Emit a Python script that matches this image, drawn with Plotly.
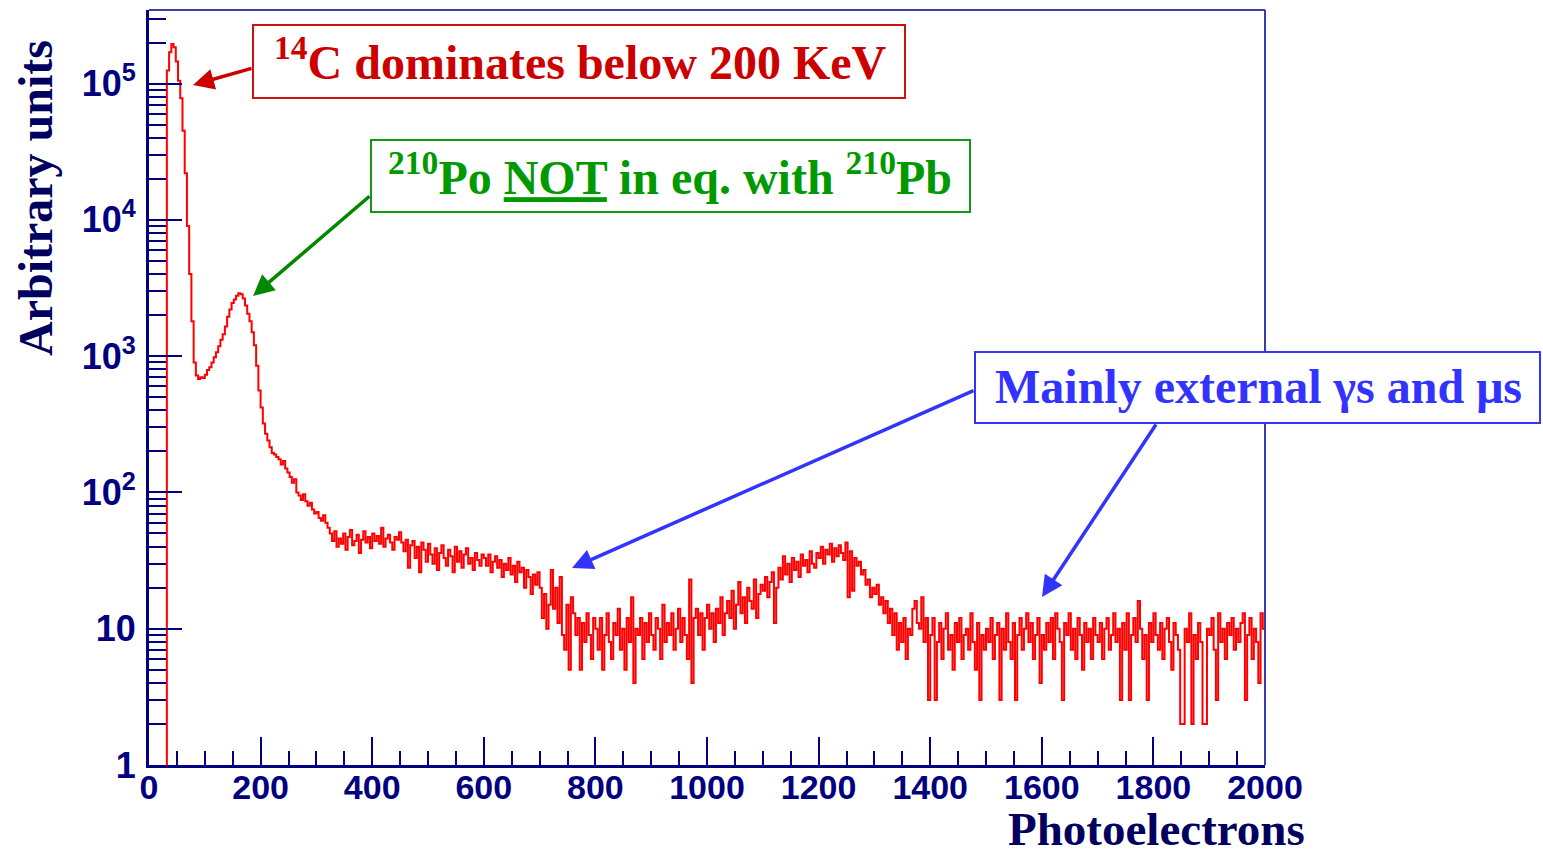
import numpy as np
import plotly.graph_objects as go

# ---------------- data (histogram, bin width 4 photoelectrons, 0..2000) ----------------
BIN_WIDTH = 4
X_RANGE = [0, 2000]

counts_000_096 = [0, 0, 0, 0, 0, 0, 0, 0, 125000, 170000, 195000, 185000, 145000, 105000, 78000,
                  45000, 22000, 9000, 4000, 1800, 900, 720, 680, 700, 690]
counts_100_196 = [730, 790, 830, 900, 980, 1070, 1180, 1320, 1450, 1650, 1950, 2200, 2450, 2600,
                  2780, 2900, 2850, 2650, 2350, 2050, 1800, 1500, 1200, 850, 560]
counts_200_296 = [420, 320, 270, 240, 215, 195, 190, 182, 175, 160, 170, 150, 140, 130, 118, 125,
                  100, 95, 88, 97, 86, 80, 84, 75, 70]
counts_300_396 = [72, 65, 62, 68, 60, 55, 50, 44, 52, 40, 46, 42, 50, 38, 47, 53, 41, 44, 49, 36,
                  45, 52, 43, 47, 39]
counts_400_496 = [50, 44, 48, 42, 55, 40, 46, 49, 43, 38, 47, 45, 51, 43, 37, 45, 28, 41, 44, 33,
                  40, 26, 43, 38, 31]
counts_500_596 = [42, 35, 30, 39, 27, 36, 41, 33, 29, 38, 34, 26, 40, 31, 37, 28, 35, 39, 30, 33,
                  27, 36, 32, 29, 35]
counts_600_696 = [33, 29, 35, 26, 31, 34, 28, 32, 24, 30, 27, 33, 25, 29, 22, 31, 26, 28, 20, 27,
                  24, 18, 25, 21, 26]
counts_700_796 = [20, 12, 18, 10, 15, 27, 14, 20, 11, 24, 9, 7, 15, 5, 17, 13, 9, 12, 5, 11, 8, 13,
                  9, 6, 12]
counts_800_896 = [10, 7, 12, 5, 9, 13, 8, 6, 11, 9, 14, 7, 10, 5, 12, 8, 17, 4, 10, 9, 12, 6, 11,
                  8, 13]
counts_900_996 = [9, 7, 12, 10, 6, 15, 8, 11, 9, 13, 7, 10, 14, 8, 12, 9, 6, 23, 4, 12, 14, 9, 13,
                  7, 12]
counts_1000_1096 = [15, 10, 13, 8, 14, 11, 17, 9, 13, 16, 12, 19, 10, 15, 22, 13, 17, 11, 20, 16,
                    14, 23, 12, 18, 21]
counts_1100_1196 = [19, 24, 17, 22, 26, 11, 20, 28, 23, 34, 25, 30, 22, 33, 27, 31, 24, 35, 29, 32,
                    26, 37, 30, 28, 36]
counts_1200_1296 = [33, 40, 30, 38, 35, 42, 31, 39, 34, 41, 36, 32, 43, 17, 37, 19, 33, 29, 31, 25,
                    27, 21, 23, 17, 20]
counts_1300_1396 = [18, 21, 15, 17, 13, 16, 11, 14, 9, 13, 7, 11, 8, 12, 6, 10, 9, 14, 16, 11, 10,
                    17, 8, 12, 3]
counts_1400_1496 = [9, 12, 3, 8, 11, 6, 10, 13, 7, 9, 5, 11, 8, 12, 6, 9, 10, 7, 13, 8, 5, 11, 3,
                    9, 7]
counts_1500_1596 = [10, 8, 12, 6, 9, 11, 3, 10, 7, 13, 8, 6, 11, 3, 9, 12, 7, 10, 13, 8, 11, 6, 9,
                    12, 4]
counts_1600_1696 = [9, 7, 11, 8, 12, 6, 13, 10, 8, 3, 11, 9, 13, 7, 10, 6, 12, 9, 5, 11, 8, 10, 6,
                    12, 9]
counts_1700_1796 = [8, 11, 6, 10, 12, 7, 9, 13, 8, 10, 3, 11, 7, 13, 3, 9, 12, 8, 16, 10, 6, 9, 3,
                    11, 8]
counts_1800_1896 = [13, 9, 7, 11, 6, 10, 12, 8, 5, 11, 9, 7, 2, 2, 10, 8, 13, 2, 9, 6, 11, 8, 2, 2,
                    10]
counts_1900_1996 = [9, 12, 7, 3, 13, 8, 10, 6, 11, 9, 12, 7, 10, 8, 11, 13, 3, 9, 12, 6, 10, 8, 4,
                    13, 10]

x_tick_vals = [0, 200, 400, 600, 800, 1000, 1200, 1400, 1600, 1800, 2000]
x_tick_text = ["0", "200", "400", "600", "800", "1000", "1200", "1400", "1600", "1800", "2000"]
y_tick_vals = [1, 10, 100, 1000, 10000, 100000]
y_tick_text = ["1", "10", "10<sup>2</sup>", "10<sup>3</sup>", "10<sup>4</sup>", "10<sup>5</sup>"]

x_title = "Photoelectrons"
y_title = "Arbitrary units"
label_c14 = "<sup>14</sup>C dominates below 200 KeV"
label_po = "<sup>210</sup>Po <u>NOT</u> in eq. with <sup>210</sup>Pb"
label_ext = "Mainly external γs and μs"

# ---------------- build ----------------
counts = (counts_000_096 + counts_100_196 + counts_200_296 + counts_300_396 + counts_400_496 +
          counts_500_596 + counts_600_696 + counts_700_796 + counts_800_896 + counts_900_996 +
          counts_1000_1096 + counts_1100_1196 + counts_1200_1296 + counts_1300_1396 +
          counts_1400_1496 + counts_1500_1596 + counts_1600_1696 + counts_1700_1796 +
          counts_1800_1896 + counts_1900_1996)
edges = np.arange(X_RANGE[0], X_RANGE[1] + BIN_WIDTH, BIN_WIDTH)
Y_FLOOR = 0.3  # empty bins: drawn below the axis minimum (clipped), like ROOT
y_plot = [c if c > 0 else Y_FLOOR for c in counts]
y_step = y_plot + [y_plot[-1]]

NAVY = "#000080"
TITLE_NAVY = "#00005e"
W, H = 1543, 856
L, R, T, B = 149, 1265, 10, 765


def px(xp):
    return (xp - L) / (R - L)


def py(yp):
    return (B - yp) / (B - T)


fig = go.Figure()
fig.add_trace(go.Scatter(x=edges, y=y_step, mode="lines",
                         line=dict(color="#ff0000", width=2, shape="hv"),
                         hoverinfo="skip", showlegend=False))

y_minor = [m * 10 ** d for d in range(0, 6) for m in range(2, 10) if m * 10 ** d < 3.4e5]
x_minor = list(range(0, 2001, 50))

fig.update_layout(
    width=W, height=H,
    margin=dict(l=L, r=W - R, t=T, b=H - B),
    paper_bgcolor="white", plot_bgcolor="white",
    showlegend=False,
)
fig.update_xaxes(
    range=X_RANGE, tickmode="array", tickvals=x_tick_vals, ticktext=x_tick_text,
    ticks="inside", ticklen=28, tickwidth=2, tickcolor=NAVY,
    showline=True, linecolor=NAVY, linewidth=3, showgrid=False, zeroline=False,
    tickfont=dict(family="Liberation Sans", size=34, color=NAVY, weight="bold"),
    ticklabelstandoff=-10,
    minor=dict(tickmode="array", tickvals=x_minor, ticks="inside", ticklen=14,
               tickwidth=2, tickcolor=NAVY, showgrid=False),
)
fig.update_yaxes(
    type="log", range=[0, 5.54], tickmode="array", tickvals=y_tick_vals, ticktext=y_tick_text,
    ticks="inside", ticklen=33, tickwidth=2, tickcolor=NAVY,
    showline=True, linecolor=NAVY, linewidth=3, showgrid=False, zeroline=False,
    tickfont=dict(family="Liberation Sans", size=36, color=NAVY, weight="bold"),
    ticklabelstandoff=3,
    minor=dict(tickmode="array", tickvals=y_minor, ticks="inside", ticklen=17,
               tickwidth=2, tickcolor=NAVY, showgrid=False),
)

# frame top / right
FRAME = "#3c3cb0"
fig.add_shape(type="line", xref="paper", yref="paper", x0=0, x1=1, y0=1, y1=1,
              line=dict(color=FRAME, width=2))
fig.add_shape(type="line", xref="paper", yref="paper", x0=1, x1=1, y0=0, y1=1,
              line=dict(color=FRAME, width=2))

# annotation boxes
boxes = [
    (253, 905, 25, 98, "#cc1111"),
    (371, 970, 140, 212, "#119911"),
    (975, 1540, 352, 423, "#3333ff"),
]
for x0, x1, y0, y1, col in boxes:
    fig.add_shape(type="rect", xref="paper", yref="paper",
                  x0=px(x0), x1=px(x1), y0=py(y1), y1=py(y0),
                  line=dict(color=col, width=2), fillcolor="white", layer="above")

SERIF = "Liberation Serif"
texts = [
    (label_c14, 580, 59, "#cc0000"),
    (label_po, 670, 174, "#009900"),
    (label_ext, 1258, 386, "#3333ff"),
]
for txt, cx, cy, col in texts:
    fig.add_annotation(x=px(cx), y=py(cy), xref="paper", yref="paper", text=txt,
                       showarrow=False, xanchor="center", yanchor="middle",
                       font=dict(family=SERIF, size=48, color=col, weight="bold"))

arrows = [
    (193, 85, 253, 68, "#cc0000"),
    (253, 296, 371, 195, "#008800"),
    (572, 568, 975, 390, "#3333ff"),
    (1042, 597, 1157, 423, "#3333ff"),
]
for hx, hy, tx, ty, col in arrows:
    fig.add_annotation(x=px(hx), y=py(hy), xref="paper", yref="paper", text="",
                       showarrow=True, ax=tx - hx, ay=ty - hy, axref="pixel", ayref="pixel",
                       arrowhead=2, arrowsize=1.2, arrowwidth=3.5, arrowcolor=col, standoff=0)

# axis titles (ROOT style placement)
fig.add_annotation(x=px(1307), y=py(829), xref="paper", yref="paper", text=x_title,
                   showarrow=False, xanchor="right", yanchor="middle",
                   font=dict(family=SERIF, size=47, color=TITLE_NAVY, weight="bold"))
fig.add_annotation(x=px(35), y=py(38), xref="paper", yref="paper", text=y_title,
                   showarrow=False, xanchor="center", yanchor="top", textangle=-90,
                   font=dict(family=SERIF, size=48, color=TITLE_NAVY, weight="bold"))

fig.write_html("out.html")
